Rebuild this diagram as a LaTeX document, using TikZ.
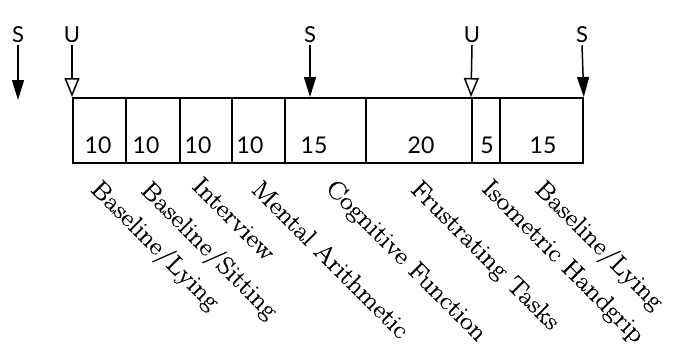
\documentclass[tikz,border=0pt]{standalone}
\usepackage{fontspec}
\usetikzlibrary{arrows.meta}
\newfontfamily\numfont{Lato}
\newfontfamily\labfont{Latin Modern Roman}[FakeStretch=1.13,FakeBold=0.6]
\begin{document}
\begin{tikzpicture}[x=1pt,y=-1pt,
  cell/.style={draw,line width=1.8pt,minimum height=65pt,inner sep=0pt,anchor=north west},
  num/.style={font=\numfont\fontsize{23}{23}\selectfont,inner sep=0pt},
  markletter/.style={font=\numfont\fontsize{22}{22}\selectfont,inner sep=2pt},
  lab/.style={font=\labfont\fontsize{25}{25}\selectfont,inner sep=0pt,anchor=north west,rotate=-45},
  sarrow/.style={line width=1.5pt,-{Triangle[length=20pt,width=12pt]}},
  uarrow/.style={line width=1.5pt,-{Triangle[open,length=19pt,width=15pt,line width=1.5pt]}}]
\useasboundingbox (0,0) rectangle (674,349);
% cells
\node[cell,minimum width=53pt] (c1) at (72,97) {};
\node[cell,minimum width=54pt] (c2) at (125,97) {};
\node[cell,minimum width=52pt] (c3) at (179,97) {};
\node[cell,minimum width=53pt] (c4) at (231,97) {};
\node[cell,minimum width=81pt] (c5) at (284,97) {};
\node[cell,minimum width=106pt] (c6) at (365,97) {};
\node[cell,minimum width=28pt] (c7) at (471,97) {};
\node[cell,minimum width=83pt] (c8) at (499,97) {};
% numbers
\node[num] (n1) at (98,145) {10};
\node[num] (n2) at (146,145) {10};
\node[num] (n3) at (198,145) {10};
\node[num] (n4) at (250,145) {10};
\node[num] (n5) at (314,145) {15};
\node[num] (n6) at (421,145) {20};
\node[num] (n7) at (487,145) {5};
\node[num] (n8) at (543,145) {15};
% markers
\node[markletter] (s0) at (18,35) {S};
\node[markletter] (u1) at (72,35) {U};
\node[markletter] (s1) at (310,35) {S};
\node[markletter] (u2) at (472,35) {U};
\node[markletter] (s2) at (582,35) {S};
\coordinate (e0) at (18,100);
\coordinate (e1) at (310,97);
\draw[sarrow] (s0.south) -- (e0);
\draw[uarrow] (u1.south) -- (c1.north west);
\draw[sarrow] (s1.south) -- (e1);
\draw[uarrow] (u2.south) -- (c7.north west);
\draw[sarrow] (s2.south) -- (c8.north east);
% labels
\node[lab] (l1) at (103,177) {Baseline/Lying};
\node[lab] (l2) at (153,178) {Baseline/Sitting};
\node[lab] (l3) at (203,175) {Interview};
\node[lab] (l4) at (263,178) {Mental Arithmetic};
\node[lab] (l5) at (337,177) {Cognitive Function};
\node[lab] (l6) at (422,178) {Frustrating Tasks};
\node[lab] (l7) at (493,177) {Isometric Handgrip};
\node[lab] (l8) at (547,177) {Baseline/Lying};
\end{tikzpicture}
\end{document}
